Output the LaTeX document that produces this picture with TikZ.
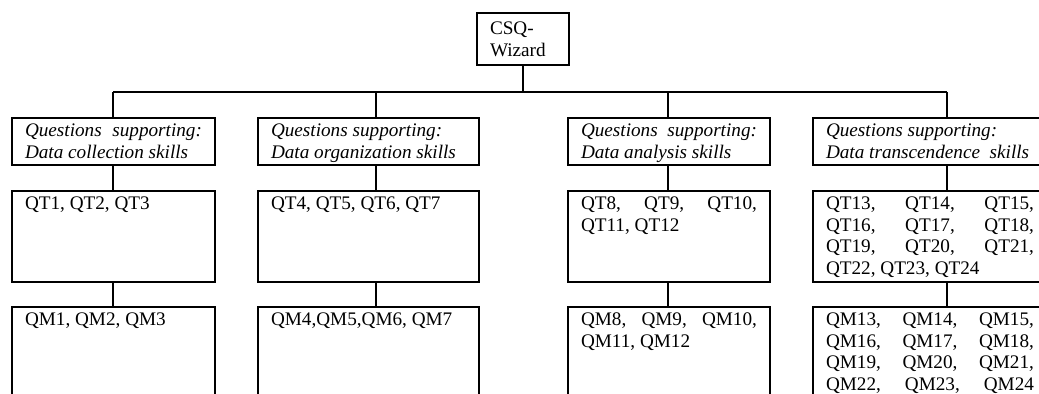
\documentclass[tikz,border=0pt]{standalone}
\usepackage{fontspec}
\setmainfont{Liberation Serif}
\usetikzlibrary{positioning}

\newdimen\px \px=0.625pt
\newcommand{\boxtext}[3]{\parbox[c][#1\px][t]{#2\px}{\sloppy #3}}

\tikzset{
  skillbox/.style={draw, rectangle, line width=1.2pt, outer sep=0pt, anchor=north west,
    inner xsep=13\px, inner ysep=6\px, font=\fontsize{12pt}{13.5pt}\selectfont},
  wire/.style={line width=1.2pt},
  bar/.style={line width=0.8pt}
}

\begin{document}
\begin{tikzpicture}[x=0.625pt, y=-0.625pt]
                \path[use as bounding box] (0,0) rectangle (1039,394);
                \clip (0,0) rectangle (1039,394);
                \node[skillbox, inner ysep=9\px] (root) at (477,13) {\boxtext{34}{66}{CSQ-\\Wizard}};
                % skill headers
                \node[skillbox] (h1) at (12,118) {\boxtext{35}{177}{\itshape Questions supporting:\linebreak Data collection skills}};
                \node[skillbox] (h2) at (258,118) {\boxtext{35}{195}{\itshape Questions supporting:\\Data organization skills}};
                \node[skillbox] (h3) at (568,118) {\boxtext{35}{176}{\itshape Questions supporting:\linebreak Data analysis skills}};
                \node[skillbox] (h4) at (813,118) {\boxtext{35}{208}{\itshape Questions supporting:\\Data transcendence~ skills}};
                % QT questions
                \node[skillbox, below=26\px of h1.south west, anchor=north west] (t1) {\boxtext{79}{177}{QT1, QT2, QT3}};
                \node[skillbox, below=26\px of h2.south west, anchor=north west] (t2) {\boxtext{79}{195}{QT4, QT5, QT6, QT7}};
                \node[skillbox, below=26\px of h3.south west, anchor=north west] (t3) {\boxtext{79}{176}{QT8, QT9, QT10,\linebreak QT11, QT12}};
                \node[skillbox, below=26\px of h4.south west, anchor=north west] (t4) {\boxtext{79}{208}{QT13, QT14, QT15,\linebreak QT16, QT17, QT18,\linebreak QT19, QT20, QT21,\linebreak QT22, QT23, QT24}};
                % QM questions
                \node[skillbox, below=25\px of t1.south west, anchor=north west] (m1) {\boxtext{108}{177}{QM1, QM2, QM3}};
                \node[skillbox, below=25\px of t2.south west, anchor=north west] (m2) {\boxtext{108}{195}{QM4,QM5,QM6, QM7}};
                \node[skillbox, below=25\px of t3.south west, anchor=north west] (m3) {\boxtext{108}{176}{QM8, QM9, QM10,\linebreak QM11, QM12}};
                \node[skillbox, below=25\px of t4.south west, anchor=north west] (m4) {\boxtext{108}{208}{\parfillskip=0pt QM13, QM14, QM15,\linebreak QM16, QM17, QM18,\linebreak QM19, QM20, QM21,\linebreak QM22, QM23, QM24}};
                % tree lines
                \coordinate (b1) at (113,92);
                \coordinate (b2) at (376,92);
                \coordinate (b3) at (668,92);
                \coordinate (b4) at (947,92);
                \draw[wire] (root.south) -- (root.south |- b1);
                \draw[bar] (b1) -- (b4);
                \draw[wire] (b1) -- (b1 |- h1.north);
                \draw[wire] (b2) -- (b2 |- h2.north);
                \draw[wire] (b3) -- (b3 |- h3.north);
                \draw[wire] (b4) -- (b4 |- h4.north);
                \draw[wire] (h1.south -| b1) -- (b1 |- t1.north);
                \draw[wire] (h2.south -| b2) -- (b2 |- t2.north);
                \draw[wire] (h3.south -| b3) -- (b3 |- t3.north);
                \draw[wire] (h4.south -| b4) -- (b4 |- t4.north);
                \draw[wire] (t1.south -| b1) -- (b1 |- m1.north);
                \draw[wire] (t2.south -| b2) -- (b2 |- m2.north);
                \draw[wire] (t3.south -| b3) -- (b3 |- m3.north);
                \draw[wire] (t4.south -| b4) -- (b4 |- m4.north);
            \end{tikzpicture}
\end{document}
